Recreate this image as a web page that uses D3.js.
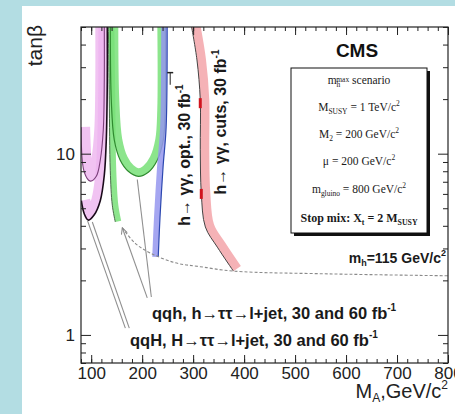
<!DOCTYPE html>
<html><head><meta charset="utf-8">
<script src="https://cdn.jsdelivr.net/npm/d3@7"></script>
<style>body{margin:0;background:#b3dde3} svg{display:block}</style>
</head><body>
<svg id="c" width="455" height="414"></svg>
<script>
// ---------- data (M_A in GeV/c^2, tan beta) ----------
const maTicks = [100, 200, 300, 400, 500, 600, 700, 800];
const tanTicks = [1, 10];
const maMinor = d3.range(80, 801, 20);
const tanMinor = [0.7, 0.8, 0.9, 2, 3, 4, 5, 6, 7, 8, 9, 20, 30, 40, 50];

// h -> gamma gamma, cuts, 30 fb-1
const redMA  = [297, 307.5, 314, 314, 316, 324, 347.5, 379];
const redTan = [50, 32.9, 19.8, 10.5, 6.06, 3.94, 3.05, 2.25];
const redMarkMA  = [314, 316];
const redMarkTan = [19.0, 6.0];
// h -> gamma gamma, opt., 30 fb-1
const blueMA  = [249, 247, 241, 235, 231.5];
const blueTan = [50, 14, 8.45, 4.46, 2.69];
// qqh, h -> tautau, 30 fb-1
const green30MA  = [137.5, 139.4, 145.3, 157, 172.7, 192.4, 212, 229.6, 241.4, 245.3, 245.5];
const green30Tan = [50, 19.8, 11.9, 9.2, 8.0, 7.5, 7.9, 9.2, 11.9, 17.4, 50];
// qqh, h -> tautau, 60 fb-1
const green60MA  = [133.7, 135.5, 137.4, 141.4, 147.3];
const green60Tan = [50, 19.8, 8.1, 5.2, 4.2];
// qqH, H -> tautau, 60 fb-1
const mag60MA  = [80.6, 86.5, 94.3, 106, 117.8, 125.7, 129.6, 131.6, 131.6];
const mag60Tan = [5.5, 4.65, 4.3, 4.6, 5.5, 7.6, 11.9, 25.5, 50];
// qqH, H -> tautau, 30 fb-1
const mag30MA  = [80.2, 86.5, 98.2, 110, 117.8, 123.7, 125.7, 125.7];
const mag30Tan = [14, 7.9, 7.06, 7.5, 9.2, 13.5, 25.5, 50];
// m_h = 115 GeV/c^2 contour
const mhMA  = [161, 186.5, 216, 265, 314, 379, 575, 800];
const mhTan = [3.9, 3.2, 2.83, 2.5, 2.38, 2.25, 2.17, 2.12];
// pointer lines from labels
const ptrFromMA  = [218, 210, 174.7, 167];
const ptrFromTan = [1.62, 1.60, 1.09, 1.09];
const ptrToMA    = [190.4, 161, 102.2, 92.4];
const ptrToTan   = [7.2, 3.9, 4.2, 4.3];

// ---------- layout ----------
const svg = d3.select("#c");
const L = 81, R = 448, T = 27, B = 363;
const x = d3.scaleLinear().domain([80, 800]).range([L, R]);
const y = d3.scaleLog().domain([0.7, 50]).range([B, T]);

svg.append("rect").attr("x", 22).attr("y", 6).attr("width", 440).attr("height", 420).attr("fill", "#fff");

const defs = svg.append("defs");
defs.append("clipPath").attr("id", "pc").append("rect")
  .attr("x", L).attr("y", T).attr("width", R - L).attr("height", B - T);
defs.append("marker").attr("id", "arr").attr("viewBox", "0 0 10 10").attr("refX", 9).attr("refY", 5)
  .attr("markerWidth", 7).attr("markerHeight", 7).attr("orient", "auto")
  .append("path").attr("d", "M1,1 L9,5 L1,9").attr("fill", "none").attr("stroke", "#888").attr("stroke-width", 1.3);

const pts = (ma, tb) => ma.map((m, i) => [x(m), y(tb[i])]);
function offset(p, d) {
  return p.map((q, i) => {
    const a = p[Math.max(0, i - 1)], b = p[Math.min(p.length - 1, i + 1)];
    const dx = b[0] - a[0], dy = b[1] - a[1], l = Math.hypot(dx, dy) || 1;
    return [q[0] - dy / l * d, q[1] + dx / l * d];
  });
}
const line = d3.line().curve(d3.curveCatmullRom.alpha(0.5));
const plot = svg.append("g").attr("clip-path", "url(#pc)");

function band(ma, tb, w, side, color, op) {
  const p = pts(ma, tb);
  plot.append("path").attr("d", line(offset(p, side * w / 2)))
    .attr("fill", "none").attr("stroke", color).attr("stroke-width", w).attr("opacity", op);
}
function curve(ma, tb, color, wd) {
  plot.append("path").attr("d", line(pts(ma, tb)))
    .attr("fill", "none").attr("stroke", color).attr("stroke-width", wd);
}

// magenta qqH
band(mag30MA, mag30Tan, 9, -1, "#eeb4ef", 0.8);
band(mag60MA, mag60Tan, 9, -1, "#eeb4ef", 0.8);
curve(mag30MA, mag30Tan, "#7a3f7a", 1.1);
curve(mag60MA, mag60Tan, "#1a0a1a", 1.6);
// green qqh
band(green60MA, green60Tan, 6, -1, "#78e078", 0.85);
band(green30MA, green30Tan, 8, -1, "#78e078", 0.85);
curve(green60MA, green60Tan, "#4a6a4a", 1);
curve(green30MA, green30Tan, "#2f8a2f", 1.2);
// blue
band(blueMA, blueTan, 6, 1, "#9597ee", 0.85);
curve(blueMA, blueTan, "#2c48b0", 1.2);
// red
band(redMA, redTan, 9, -1, "#f3a5a9", 0.85);
curve(redMA, redTan, "#444", 1);
plot.selectAll(".rm").data(redMarkMA).join("line")
  .attr("x1", d => x(d)).attr("x2", d => x(d))
  .attr("y1", (d, i) => y(redMarkTan[i]) - 5).attr("y2", (d, i) => y(redMarkTan[i]) + 5)
  .attr("stroke", "#d0141e").attr("stroke-width", 3);
// blue small marker
plot.append("line").attr("x1", x(255) - 3).attr("x2", x(255) + 3)
  .attr("y1", y(28)).attr("y2", y(28)).attr("stroke", "#222").attr("stroke-width", 1.5);
plot.append("line").attr("x1", x(255)).attr("x2", x(255))
  .attr("y1", y(28)).attr("y2", y(24)).attr("stroke", "#222").attr("stroke-width", 1);

// mh = 115 contour
plot.append("path").attr("d", line(pts(mhMA, mhTan))).attr("fill", "none")
  .attr("stroke", "#8a8a8a").attr("stroke-width", 1.1).attr("stroke-dasharray", "3,2");

// pointers
svg.selectAll(".ptr").data(ptrFromMA).join("line")
  .attr("x1", d => x(d)).attr("y1", (d, i) => y(ptrFromTan[i]))
  .attr("x2", (d, i) => x(ptrToMA[i])).attr("y2", (d, i) => y(ptrToTan[i]))
  .attr("stroke", "#8f8f8f").attr("stroke-width", 1.1)
  .attr("marker-end", (d, i) => i === 1 ? "url(#arr)" : null);

// ---------- axes ----------
const sans = "Liberation Sans, Arial, sans-serif";
const ax = svg.append("g").attr("font-family", sans);
function styleAxis(g) { g.select(".domain").remove(); g.selectAll("line").attr("stroke", "#222"); }
ax.append("g").attr("transform", `translate(0,${B})`)
  .call(d3.axisBottom(x).tickValues(maTicks).tickSizeInner(-8).tickSizeOuter(0).tickPadding(4).tickFormat(d3.format("d")))
  .call(styleAxis).call(g => g.selectAll("text").attr("font-size", 17).attr("fill", "#222").attr("font-family", sans));
ax.append("g").attr("transform", `translate(0,${B})`)
  .call(d3.axisBottom(x).tickValues(maMinor).tickSize(-4).tickFormat("")).call(styleAxis);
ax.append("g").attr("transform", `translate(0,${T})`)
  .call(d3.axisTop(x).tickValues(maTicks).tickSize(-8).tickFormat("")).call(styleAxis);
ax.append("g").attr("transform", `translate(0,${T})`)
  .call(d3.axisTop(x).tickValues(maMinor).tickSize(-4).tickFormat("")).call(styleAxis);
ax.append("g").attr("transform", `translate(${L},0)`)
  .call(d3.axisLeft(y).tickValues(tanTicks).tickSizeInner(-10).tickSizeOuter(0).tickPadding(6).tickFormat(d3.format("d")))
  .call(styleAxis).call(g => g.selectAll("text").attr("font-size", 17).attr("fill", "#222").attr("font-family", sans));
ax.append("g").attr("transform", `translate(${L},0)`)
  .call(d3.axisLeft(y).tickValues(tanMinor).tickSize(-5).tickFormat("")).call(styleAxis);
ax.append("g").attr("transform", `translate(${R},0)`)
  .call(d3.axisRight(y).tickValues(tanTicks).tickSize(-10).tickFormat("")).call(styleAxis);
ax.append("g").attr("transform", `translate(${R},0)`)
  .call(d3.axisRight(y).tickValues(tanMinor).tickSize(-5).tickFormat("")).call(styleAxis);
svg.append("rect").attr("x", L).attr("y", T).attr("width", R - L).attr("height", B - T)
  .attr("fill", "none").attr("stroke", "#222").attr("stroke-width", 1.2);

// axis titles
const xt = svg.append("text").attr("x", R).attr("y", 398).attr("text-anchor", "end")
  .attr("font-family", sans).attr("font-size", 20).attr("fill", "#222");
xt.append("tspan").text("M");
xt.append("tspan").attr("font-size", 12).attr("dy", 4).text("A");
xt.append("tspan").attr("dy", -4).text(",GeV/c");
xt.append("tspan").attr("font-size", 12).attr("dy", -9).text("2");
svg.append("text").attr("transform", "translate(41.5,25) rotate(-90)").attr("text-anchor", "end")
  .attr("font-family", sans).attr("font-size", 21).attr("fill", "#222").text("tanβ");

// ---------- annotations ----------
function rot(tx, ty, s) {
  const t = svg.append("text").attr("transform", `translate(${tx},${ty}) rotate(-90)`).attr("text-anchor", "middle")
    .attr("font-family", sans).attr("font-weight", "bold").attr("font-size", 16).attr("fill", "#1a1a1a");
  t.append("tspan").text(s);
  t.append("tspan").attr("font-size", 10).attr("dy", -7).text("-1");
}
rot(189.5, 155, "h→ γγ, opt., 30 fb");
rot(226, 122, "h→ γγ, cuts, 30 fb");

function lab(tx, ty, s) {
  const t = svg.append("text").attr("x", tx).attr("y", ty)
    .attr("font-family", sans).attr("font-weight", "bold").attr("font-size", 16.5).attr("fill", "#1a1a1a");
  t.append("tspan").text(s);
  t.append("tspan").attr("font-size", 10).attr("dy", -8).text("-1");
}
lab(152, 319, "qqh, h→ττ→l+jet, 30 and 60 fb");
lab(130, 346, "qqH, H→ττ→l+jet, 30 and 60 fb");

const mh = svg.append("text").attr("x", 446).attr("y", 263).attr("text-anchor", "end")
  .attr("font-family", sans).attr("font-weight", "bold").attr("font-size", 14).attr("fill", "#1a1a1a");
mh.append("tspan").text("m");
mh.append("tspan").attr("font-size", 9).attr("dy", 3).text("h");
mh.append("tspan").attr("dy", -3).text("=115 GeV/c");
mh.append("tspan").attr("font-size", 9).attr("dy", -7).text("2");

svg.append("text").attr("x", 357).attr("y", 57).attr("text-anchor", "middle")
  .attr("font-family", sans).attr("font-weight", "bold").attr("font-size", 19).attr("fill", "#111").text("CMS");

// parameter box
svg.append("rect").attr("x", 294).attr("y", 71).attr("width", 136).attr("height", 165).attr("fill", "#111");
svg.append("rect").attr("x", 291).attr("y", 68).attr("width", 136).attr("height", 165)
  .attr("fill", "#fff").attr("stroke", "#111").attr("stroke-width", 1);
const serif = "Liberation Serif, Times New Roman, serif";
function bt(ty, parts, fs, bold) {
  const t = svg.append("text").attr("x", 359).attr("y", ty).attr("text-anchor", "middle")
    .attr("font-family", serif).attr("font-size", fs).attr("fill", "#1a1a1a").attr("font-weight", bold ? "bold" : "normal");
  parts.forEach(p => {
    const s = t.append("tspan").text(p[0]);
    if (p[1] === "sub") s.attr("font-size", fs * 0.65).attr("dy", 3);
    else if (p[1] === "sup") s.attr("font-size", fs * 0.65).attr("dy", -5);
    else if (p[1] === "back") s.attr("dy", p[2]);
    if (p[3] !== undefined) s.attr("dx", p[3]);
  });
}
bt(84, [["m"], ["h", "sub"], ["max", "sup", 0, -4], [" scenario", "back", 2]], 11.5);
bt(111, [["M"], ["SUSY", "sub"], [" = 1 TeV/c", "back", -3], ["2", "sup"]], 11.5);
bt(138, [["M"], ["2", "sub"], [" = 200 GeV/c", "back", -3], ["2", "sup"]], 11.5);
bt(165, [["μ = 200 GeV/c"], ["2", "sup"]], 11.5);
bt(193, [["m"], ["gluino", "sub"], [" = 800 GeV/c", "back", -3], ["2", "sup"]], 11.5);
bt(222, [["Stop mix: X"], ["t", "sub"], [" = 2 M", "back", -3], ["SUSY", "sub"]], 12, true);
</script>
</body></html>
